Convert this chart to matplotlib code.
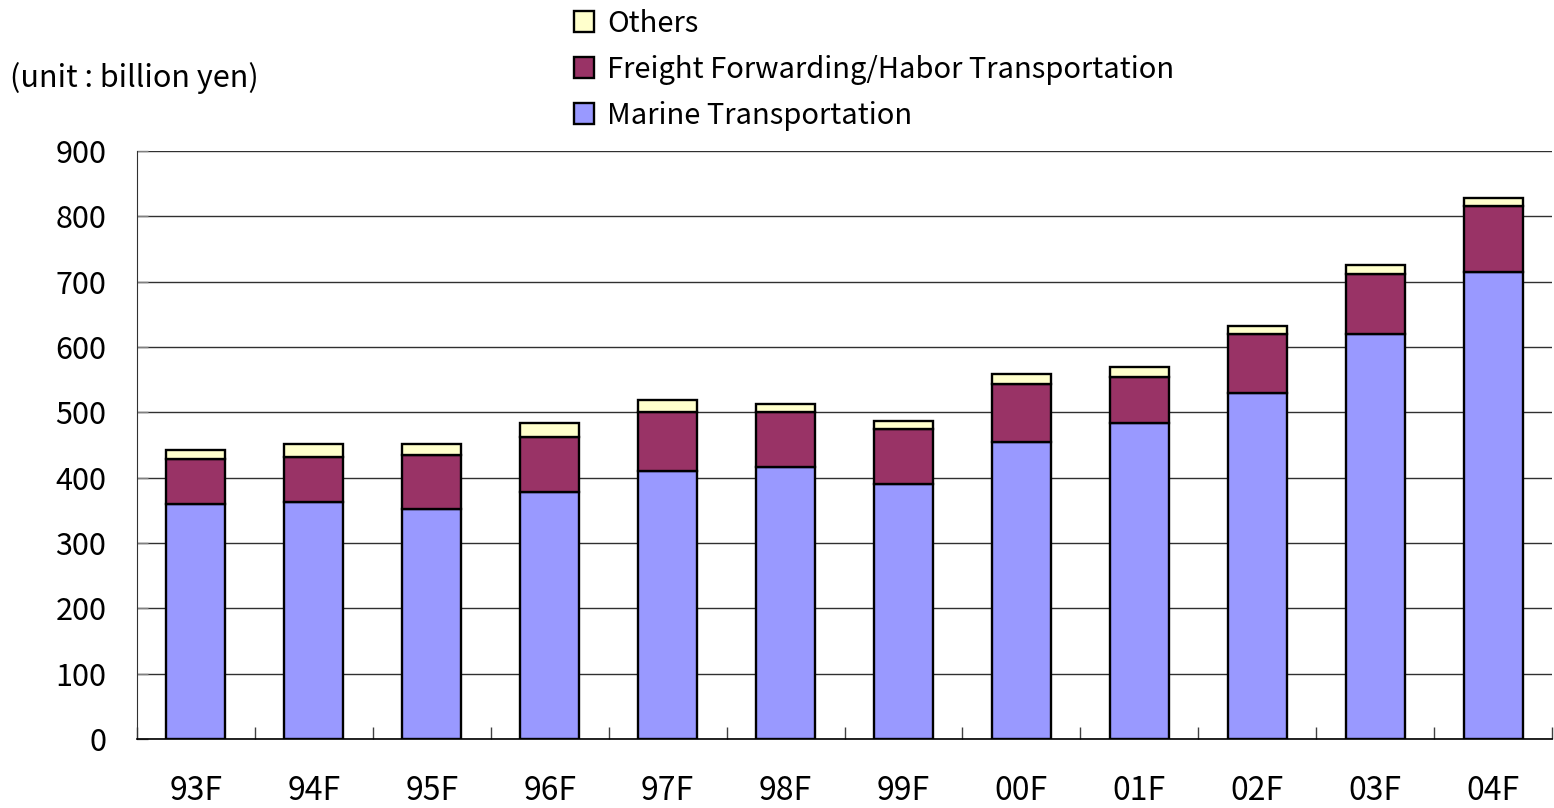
import matplotlib
matplotlib.use("Agg")
import matplotlib.pyplot as plt
import numpy as np

# fiscal years and segment sales (billion yen)
years = ["93F", "94F", "95F", "96F", "97F", "98F", "99F", "00F", "01F", "02F", "03F", "04F"]
marine = [359, 362, 352, 378, 410, 417, 391, 454, 483, 530, 620, 715]
freight = [69, 70, 83, 85, 90, 83, 84, 90, 71, 90, 91, 101]
others = [15, 19, 16, 20, 19, 12, 11, 15, 16, 12, 15, 12]

plt.rcParams["font.family"] = ["Noto Sans CJK JP", "DejaVu Sans"]

fig = plt.figure(figsize=(15.54, 8.08), dpi=100)
ax = fig.add_axes([137 / 1554, 1 - 739 / 808, 1415 / 1554, 588 / 808])

x = np.arange(len(years))
w = 0.5
edge = dict(edgecolor="black", linewidth=1.7, width=w, zorder=3)
b1 = ax.bar(x, marine, color="#9999FF", **edge)
b2 = ax.bar(x, freight, bottom=marine, color="#993366", **edge)
bottom2 = np.array(marine) + np.array(freight)
b3 = ax.bar(x, others, bottom=bottom2, color="#FFFFCC", **edge)

ax.set_xlim(-0.5, len(years) - 0.5)
ax.set_ylim(0, 900)
ax.set_yticks(range(0, 901, 100))
ax.yaxis.grid(True, color="#303030", linewidth=1.0, zorder=0)
ax.set_axisbelow(True)

# category labels centred, tick marks on the boundaries
ax.set_xticks(x)
ax.set_xticklabels(years)
ax.set_xticks(np.arange(-0.5, len(years)), minor=True)
ax.tick_params(axis="x", which="major", length=0, pad=26, labelsize=23)
ax.tick_params(axis="x", which="minor", direction="in", length=9, width=1, color="#404040")
ax.tick_params(axis="y", direction="in", length=8, width=1, color="#808080", pad=22, labelsize=22)

for s in ("top", "right"):
    ax.spines[s].set_visible(False)
ax.spines["left"].set_color("#303030")
ax.spines["bottom"].set_color("black")
ax.spines["bottom"].set_linewidth(1.2)

fig.text(10 / 1554, 1 - 78 / 808, "(unit : billion yen)", fontsize=22, va="center", ha="left")

fig.legend([b3, b2, b1],
           ["Others", "Freight Forwarding/Habor Transportation", "Marine Transportation"],
           loc="upper left", bbox_to_anchor=(559 / 1554, 1.0 + 6 / 808), frameon=False,
           fontsize=21, handlelength=0.7, handleheight=0.7, handletextpad=0.45,
           labelspacing=0.55, borderaxespad=0.1)

fig.savefig("out.png", dpi=100)
